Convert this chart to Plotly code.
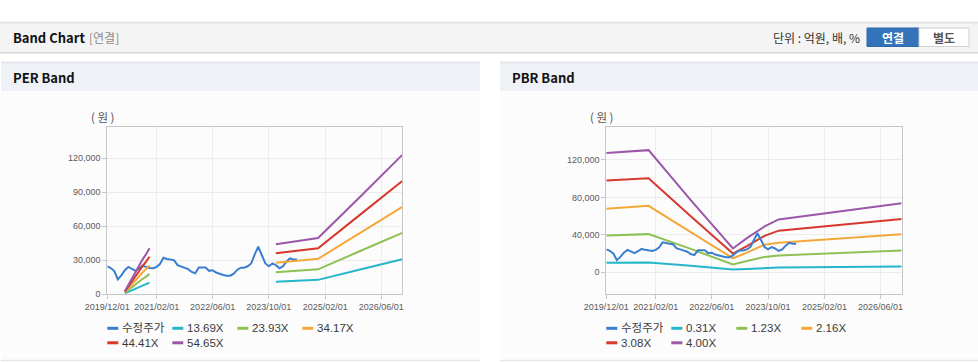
import pandas as pd
import plotly.graph_objects as go

W, H = 978, 362

# ---------------- data ----------------
price_dates = pd.date_range("2019-12-01", "2024-06-01", freq="MS")
price = [24500, 23000, 20000, 13000, 16500, 21000, 24000, 22500, 20500, 22500,
         25000, 24000, 23000, 22800, 24000, 26500, 32000, 31000, 30500, 30000,
         25500, 24500, 23500, 22000, 19500, 18300, 23500, 23800, 23500, 20500,
         21000, 19000, 17800, 16800, 16200, 16200, 18000, 21500, 23300, 23300,
         24500, 27000, 35000, 41800, 34500, 27000, 24500, 27000, 25500, 22800,
         24500, 28500, 31500, 30500, 30600]

per_dates = ["2020-05-01", "2020-06-01", "2020-07-01", "2020-08-01", "2020-09-01",
             "2020-10-01", "2020-11-01", "2020-12-01", "2022-06-01",
             "2023-12-01", "2024-06-01", "2024-12-01", "2025-12-01", "2026-12-01"]
per_names = ["13.69X", "23.93X", "34.17X", "44.41X", "54.65X"]
per_1369 = [600, 2000, 3600, 5000, 6300, 7500, 8700, 10000, None, 10900, 11700, 12500, 21600, 30700]
per_2393 = [1050, 3600, 6400, 8900, 11200, 13300, 15400, 17700, None, 19300, 20500, 21800, 38000, 54000]
per_3417 = [1500, 5100, 9100, 12700, 15900, 19000, 22000, 25300, None, 27700, 29300, 31100, 54000, 77000]
per_4441 = [1950, 6600, 11800, 16500, 20700, 24700, 28600, 32900, None, 36000, 38100, 40400, 70200, 100000]
per_5465 = [2400, 8100, 14600, 20300, 25500, 30400, 35200, 40500, None, 44000, 46500, 49500, 86000, 123000]

pbr_dates = ["2019-12-01", "2020-12-01", "2021-12-01", "2022-12-01",
             "2023-04-01", "2023-09-01", "2024-01-01", "2026-12-01"]
pbr_names = ["0.31X", "1.23X", "2.16X", "3.08X", "4.00X"]
pbr_031 = [10300, 10600, 7000, 3000, 3500, 4600, 5200, 6300]
pbr_123 = [39300, 40800, 25000, 8300, 12000, 16500, 18000, 23400]
pbr_216 = [68000, 71000, 43000, 15000, 21000, 29500, 31500, 40800]
pbr_308 = [98000, 100500, 60000, 20000, 28000, 39000, 44500, 57000]
pbr_400 = [127500, 130500, 77000, 25500, 36500, 49000, 56500, 73700]

x_ticks = ["2019-12-01", "2021-02-01", "2022-06-01", "2023-10-01", "2025-02-01", "2026-06-01"]
x_tick_text = ["2019/12/01", "2021/02/01", "2022/06/01", "2023/10/01", "2025/02/01", "2026/06/01"]
per_yticks = [0, 30000, 60000, 90000, 120000]
pbr_yticks = [0, 40000, 80000, 120000]

colors = ["#3a7fcf", "#27b6c9", "#8dc153", "#f5a83a", "#d8382c", "#9b58a8"]

# ---------------- helpers ----------------
def px(x):
    return x / W

def py(y):
    return 1 - y / H

FONT = "Liberation Sans, Arial, Noto Sans CJK KR, sans-serif"
KFONT = "Noto Sans CJK KR, Liberation Sans, sans-serif"

fig = go.Figure()

# price + bands, PER
fig.add_trace(go.Scatter(x=price_dates, y=price, mode="lines", name="수정주가",
                         line=dict(color=colors[0], width=2), xaxis="x", yaxis="y",
                         showlegend=False))
for i, (nm, vals) in enumerate(zip(per_names, [per_1369, per_2393, per_3417, per_4441, per_5465])):
    fig.add_trace(go.Scatter(x=per_dates, y=vals, mode="lines", name=nm,
                             line=dict(color=colors[i + 1], width=2), xaxis="x", yaxis="y",
                             showlegend=False, connectgaps=False))

# PBR
for i, (nm, vals) in enumerate(zip(pbr_names, [pbr_031, pbr_123, pbr_216, pbr_308, pbr_400])):
    fig.add_trace(go.Scatter(x=pbr_dates, y=vals, mode="lines", name=nm,
                             line=dict(color=colors[i + 1], width=2), xaxis="x2", yaxis="y2",
                             showlegend=False))
fig.add_trace(go.Scatter(x=price_dates, y=price, mode="lines", name="수정주가",
                         line=dict(color=colors[0], width=2), xaxis="x2", yaxis="y2",
                         showlegend=False))

axis_common = dict(showline=True, linecolor="#c6c6c6", linewidth=1, mirror=True,
                   gridcolor="#ececec", gridwidth=1, ticks="outside", ticklen=4,
                   tickcolor="#c6c6c6", tickfont=dict(family=FONT, size=9, color="#5a5a5a"),
                   zeroline=False, fixedrange=True, automargin=False, tickangle=0)

xr = ["2019-12-01", "2026-12-01"]
fig.update_layout(
    template="none",
    width=W, height=H, margin=dict(l=0, r=0, t=0, b=0, pad=0), autosize=False,
    paper_bgcolor="white", plot_bgcolor="white", showlegend=False,
    xaxis=dict(domain=[px(107.3), px(402.3)], anchor="y", type="date", range=xr,
               tickvals=x_ticks, ticktext=x_tick_text, **axis_common),
    yaxis=dict(domain=[py(294), py(127.3)], anchor="x", range=[0, 147400],
               tickvals=per_yticks, tickformat=",", **axis_common),
    xaxis2=dict(domain=[px(606.3), px(901.7)], anchor="y2", type="date", range=xr,
                tickvals=x_ticks, ticktext=x_tick_text, **axis_common),
    yaxis2=dict(domain=[py(294), py(127.3)], anchor="x2", range=[-23150, 154900],
                tickvals=pbr_yticks, tickformat=",", **axis_common),
)

shapes = []
ann = []

def rect(x0, y0, x1, y1, fill, line=None, lw=0):
    shapes.append(dict(type="rect", xref="paper", yref="paper", x0=px(x0), x1=px(x1),
                       y0=py(y1), y1=py(y0), fillcolor=fill,
                       line=dict(color=line or fill, width=lw), layer="below"))

def hline(x0, x1, y, color, w=1, layer="below"):
    shapes.append(dict(type="line", xref="paper", yref="paper", x0=px(x0), x1=px(x1),
                       y0=py(y), y1=py(y), line=dict(color=color, width=w), layer=layer))

def text(x, y, s, size=12, color="#222", bold=False, anchor="left", family=KFONT):
    ann.append(dict(xref="paper", yref="paper", x=px(x), y=py(y), text=("<b>%s</b>" % s) if bold else s,
                    showarrow=False, xanchor=anchor, yanchor="middle", borderpad=0,
                    font=dict(family=family, size=size, color=color)))

# top header bar
rect(0, 22, 978, 52, "#f4f4f4")
hline(0, 978, 22.5, "#e3e3e3", 2)
hline(0, 978, 52.5, "#d6d6d6", 1)
hline(0, 978, 53.5, "#ececec", 1)
text(12, 38, "Band Chart", 13, "#111", True)
text(88, 38, "[연결]", 12, "#8a8a8a")
text(861, 38, "단위 : 억원, 배, %", 12, "#333", anchor="right")
rect(867, 28, 919, 46.5, "#3473b9", "#2e68a8", 1)
rect(919, 28, 969, 46.5, "#ffffff", "#d0d0d0", 1)
text(893, 37.5, "연결", 12, "#ffffff", True, anchor="center")
text(944, 37.5, "별도", 12, "#555555", True, anchor="center")

# panel headers + bodies
for (a, b, title) in [(1, 480, "PER Band"), (500, 978, "PBR Band")]:
    rect(a, 62, b, 91, "#eef1f6")
    hline(a, b, 62.5, "#e3e6eb", 2)
    rect(a, 91, b, 360, "#fcfcfc")
    hline(a, b, 360.5, "#e6e6e6", 1.5)
    text(a + 11, 77.5, title, 13, "#111", True)

# unit labels
text(102.5, 117, "( 원 )", 11.5, "#555", anchor="center")
text(601.5, 117, "( 원 )", 11.5, "#555", anchor="center")

# custom legends
def legend(x0, names):
    for k, nm in enumerate(names):
        row, col = divmod(k, 4)
        lx = x0 + col * 65
        ly = 328.3 + row * 14.5
        shapes.append(dict(type="line", xref="paper", yref="paper", x0=px(lx), x1=px(lx + 11),
                           y0=py(ly), y1=py(ly), line=dict(color=colors[k], width=3), layer="above"))
        text(lx + 14, ly, nm, 11.5, "#3a3a3a", family=FONT)

legend(107.3, ["수정주가"] + per_names)
legend(606.3, ["수정주가"] + pbr_names)

fig.update_layout(shapes=shapes, annotations=ann)

fig.write_html("out.html", config={"displayModeBar": False, "responsive": False},
               post_script="document.body.style.margin='0';document.body.style.overflow='hidden';")
